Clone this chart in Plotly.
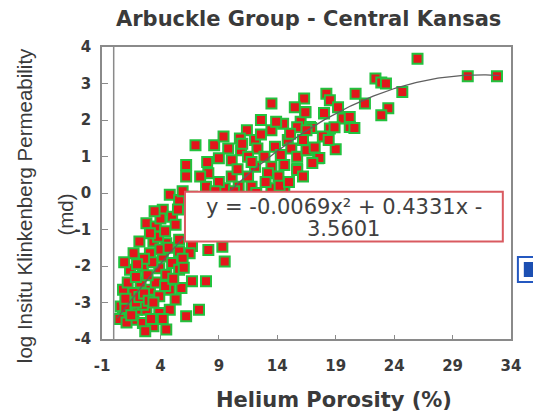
import numpy as np
import plotly.graph_objects as go

# Helium porosity (%) and log in-situ Klinkenberg permeability (md) per sample
porosity = [
    13.5, 16.3, 18.2, 18.5, 20.7, 16.4, 18.0, 14.5, 16.0, 16.8, 18.5, 20.2, 19.6, 11.4, 13.5,
    10.8, 12.1, 7.0, 8.6, 9.8, 10.9, 12.3, 13.8, 14.9, 15.2, 9.0, 10.1, 11.5, 12.9, 14.3,
    15.7, 16.6, 17.5, 6.2, 12.1, 13.5, 14.6, 15.7, 6.2, 8.1, 10.1, 11.5, 13.2, 7.9, 9.5,
    10.7, 11.8, 13.5, 14.6, 4.8, 5.6, 4.2, 5.0, 2.8, 3.6, 5.3, 2.2, 3.4, 4.5, 5.6,
    6.7, 5.6, 6.5, 1.7, 3.1, 4.2, 5.0, 8.1, 9.3, 9.5, 1.4, 2.5, 3.9, 4.5, 5.6,
    6.7, 7.9, 0.8, 1.7, 3.1, 3.9, 4.8, 5.3, 0.6, 1.3, 2.0, 2.8, 3.9, 4.8, 6.2,
    7.3, 0.8, 1.7, 2.5, 3.4, 4.5, 2.7, 1.4, 2.5,
    26.0, 22.4, 22.9, 23.3, 30.3, 32.8, 24.7, 23.5, 22.9, 20.2, 20.6, 18.9, 16.5, 17.6, 17.0,
    15.7, 16.9, 18.0, 16.4, 15.7, 16.5,
    0.5, 1.0, 1.1, 1.5, 1.9, 2.2, 2.6, 3.0, 3.4, 3.6, 2.3, 1.2, 1.9, 2.9, 3.3,
    4.0, 2.6, 3.8, 4.4, 3.1, 4.7, 5.9, 4.4, 5.8, 3.2, 4.2, 5.1, 6.0, 2.0, 1.0,
    0.9, 4.0, 5.5, 5.9, 3.5,
    9.4, 11.0, 12.6, 13.0, 14.1, 15.1, 16.2, 17.2, 12.2, 10.6, 9.0, 8.0, 7.4, 13.9, 15.5,
    11.8, 17.9, 14.2, 10.3, 8.7, 12.6, 19.2, 19.0, 18.4, 21.5, 15.0, 16.2, 6.7,
]
log_perm = [
    2.45, 2.59, 2.72, 2.54, 2.72, 2.22, 2.18, 1.90, 1.95, 1.81, 1.77, 1.81, 2.04, 1.72, 1.72,
    1.49, 1.45, 1.31, 1.31, 1.22, 1.17, 1.22, 1.27, 1.45, 1.22, 0.95, 0.90, 0.99, 0.99, 1.04,
    0.99, 1.17, 0.95, 0.77, 0.72, 0.72, 0.77, 0.67, 0.45, 0.54, 0.45, 0.45, 0.54, 0.17, 0.13,
    0.17, 0.17, 0.13, 0.04, -0.05, -0.19, -0.46, -0.65, -0.83, -0.92, -0.87, -1.33, -1.33, -1.38, -1.28,
    -1.45, -1.60, -1.65, -1.65, -1.65, -1.74, -1.92, -1.56, -1.47, -1.88, -2.10, -2.01, -2.06, -2.24, -2.10,
    -2.42, -2.42, -2.65, -2.74, -2.65, -2.83, -2.65, -2.92, -3.11, -3.29, -3.20, -3.20, -3.29, -3.20, -3.38,
    -3.20, -3.38, -3.47, -3.56, -3.65, -3.74, -3.79, -3.01, -3.06,
    3.68, 3.14, 3.03, 3.00, 3.20, 3.20, 2.77, 2.32, 2.13, 2.08, 1.78, 1.80, 1.17, 0.96, 0.82,
    0.63, 1.78, 2.19, 2.21, 1.80, 1.72,
    -3.45, -3.15, -3.55, -3.35, -3.00, -2.85, -2.75, -2.95, -3.00, -2.45, -2.45, -2.45, -2.30, -2.25, -1.90,
    -1.55, -1.80, -1.20, -1.05, -1.10, -1.50, -1.80, -2.55, -2.60, -3.45, -3.45, -2.35, -2.05, -1.95, -2.90,
    -1.90, -0.70, -0.45, 0.05, -0.50,
    1.55, 1.35, 1.60, 0.30, 0.45, 1.62, 1.45, 1.25, 0.00, 0.65, 0.30, 0.85, 0.45, 1.95, 2.35,
    0.85, 1.55, 0.20, 0.05, 0.05, 2.00, 2.35, 1.20, 1.45, 2.45, 0.30, 0.45, -0.10,
]

# Polynomial trendline coefficients (y = a*x^2 + b*x + c)
fit_a, fit_b, fit_c = -0.0069, 0.4331, -3.5601
fit_x_range = [0.3, 33.0]

x_ticks = [-1, 4, 9, 14, 19, 24, 29, 34]
y_ticks = [-4, -3, -2, -1, 0, 1, 2, 3, 4]

fit_x = np.linspace(fit_x_range[0], fit_x_range[1], 200)
fit_y = fit_a * fit_x**2 + fit_b * fit_x + fit_c

TEXT = "#3a3a3a"
FRAME = "#8a8a8a"
BOLD = dict(family="DejaVu Sans", color=TEXT, weight="bold")

# plot-area pixel geometry, used to place free text in paper coordinates
L, R, T, B = 102, 16, 47, 74
W, H = 533, 413
PW, PH = W - L - R, H - T - B


def px(xp):
    return (xp - L) / PW


def py(yp):
    return (H - B - yp) / PH


fig = go.Figure()
fig.add_trace(go.Scatter(
    x=porosity, y=log_perm, mode="markers",
    marker=dict(symbol="square", size=10, color="#e3161b",
                line=dict(color="#22c23e", width=2)),
    showlegend=False, hoverinfo="skip",
))
fig.add_trace(go.Scatter(
    x=fit_x, y=fit_y, mode="lines",
    line=dict(color="#5f5f5f", width=1.3),
    showlegend=False, hoverinfo="skip",
))

axis_common = dict(
    showline=True, linecolor=FRAME, linewidth=1.5, mirror=True,
    showgrid=False, zeroline=False, ticks="inside", tickcolor=FRAME,
    tickwidth=1, tickfont=dict(size=15, **BOLD),
)
fig.update_xaxes(range=[-1, 34], tickvals=x_ticks, ticktext=[str(v) for v in x_ticks],
                 ticklen=4, ticklabelstandoff=12, **axis_common)
fig.update_yaxes(range=[-4, 4], tickvals=y_ticks, ticktext=[str(v) for v in y_ticks],
                 ticklen=6, ticklabelstandoff=6, **axis_common)

# vertical reference line at zero porosity
fig.add_shape(type="line", xref="x", yref="paper", x0=0, x1=0, y0=0, y1=1,
              line=dict(color=FRAME, width=1.5))

# equation box
fig.add_shape(type="rect", xref="x", yref="y", x0=6.1, x1=33.3, y0=-1.33, y1=0.035,
              line=dict(color="#d95a60", width=2), fillcolor="white", layer="above")
eq_font = dict(family="DejaVu Sans", size=21, color="#404040")
fig.add_annotation(x=19.7, y=-0.37, xref="x", yref="y", showarrow=False,
                   xanchor="center", yanchor="middle",
                   text="y = -0.0069x² + 0.4331x -", font=eq_font)
fig.add_annotation(x=19.7, y=-0.99, xref="x", yref="y", showarrow=False,
                   xanchor="center", yanchor="middle",
                   text="3.5601", font=eq_font)

# legend frame at the right edge
fig.add_shape(type="rect", xref="paper", yref="paper", x0=px(524), x1=px(545),
              y0=py(282), y1=py(257), line=dict(color="#2458c0", width=2), fillcolor="white")
fig.add_shape(type="rect", xref="paper", yref="paper", x0=px(530), x1=px(545),
              y0=py(277), y1=py(262), line=dict(width=0), fillcolor="#1c4fb2")

# titles
fig.add_annotation(xref="paper", yref="paper", x=px(312), y=py(19),
                   xanchor="center", yanchor="middle", showarrow=False,
                   text="Arbuckle Group - Central Kansas", font=dict(size=21, **BOLD))
fig.add_annotation(xref="paper", yref="paper", x=px(337), y=py(400),
                   xanchor="center", yanchor="middle", showarrow=False,
                   text="Helium Porosity (%)", font=dict(size=21, **BOLD))
ylab_font = dict(family="Liberation Sans", size=20.5, color=TEXT)
fig.add_annotation(xref="paper", yref="paper", x=px(23), y=py(206),
                   xanchor="center", yanchor="middle", showarrow=False, textangle=-90,
                   text="log Insitu Klinkenberg Permeability", font=ylab_font)
fig.add_annotation(xref="paper", yref="paper", x=px(64), y=py(215),
                   xanchor="center", yanchor="middle", showarrow=False, textangle=-90,
                   text="(md)", font=ylab_font)

fig.update_layout(
    width=W, height=H,
    margin=dict(l=L, r=R, t=T, b=B),
    paper_bgcolor="white", plot_bgcolor="white",
)

fig.write_html("out.html")
